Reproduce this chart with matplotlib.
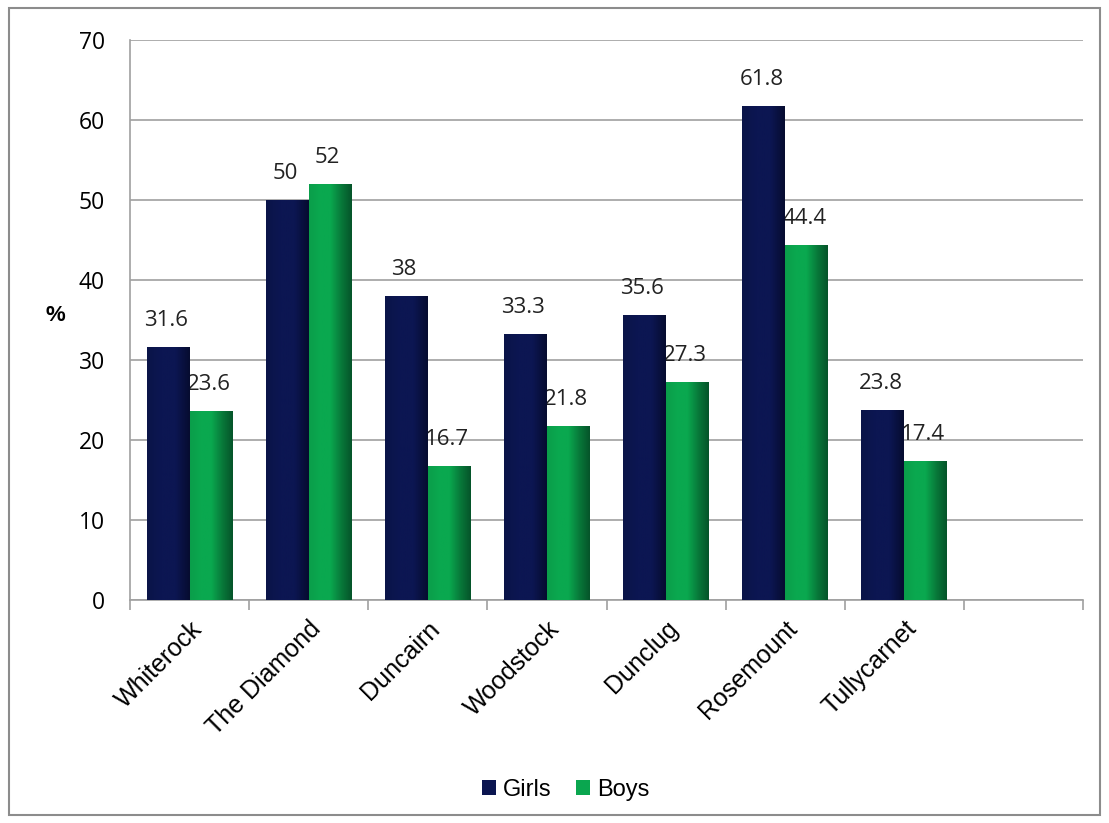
import matplotlib
matplotlib.use("Agg")
import matplotlib.pyplot as plt
import numpy as np
from matplotlib.patches import Rectangle
from matplotlib.colors import LinearSegmentedColormap

sites = ["Whiterock", "The Diamond", "Duncairn", "Woodstock", "Dunclug", "Rosemount", "Tullycarnet"]
girls = [31.6, 50, 38, 33.3, 35.6, 61.8, 23.8]
boys = [23.6, 52, 16.7, 21.8, 27.3, 44.4, 17.4]
girls_lbl = ["31.6", "50", "38", "33.3", "35.6", "61.8", "23.8"]
boys_lbl = ["23.6", "52", "16.7", "21.8", "27.3", "44.4", "17.4"]

navy = "#0b1550"
green = "#0aa64f"
grid = "#a0a0a0"

# horizontal shading like the office-style bars
navy_cm = LinearSegmentedColormap.from_list("n", ["#0a1448", "#0c1652", "#0c1652", "#060c30"])
green_cm = LinearSegmentedColormap.from_list("g", ["#0b9e4a", "#0aa84f", "#0aa84f", "#087a3a", "#05552a"])

fig = plt.figure(figsize=(11.09, 8.23), dpi=100)
fig.patches.append(Rectangle((0.008, 0.01), 0.984, 0.98, transform=fig.transFigure,
                             fill=False, edgecolor="#8c8c8c", linewidth=1.5))
ax = fig.add_axes([0.1172, 0.2710, 0.8594, 0.6804])

x = np.arange(len(sites))
w = 0.36
b1 = ax.bar(x - w / 2, girls, w, color=navy, linewidth=0, label="Girls", zorder=3)
b2 = ax.bar(x + w / 2, boys, w, color=green, linewidth=0, label="Boys", zorder=3)

grad = np.linspace(0, 1, 64).reshape(1, -1)
for bars, cm in [(b1, navy_cm), (b2, green_cm)]:
    for p in bars:
        x0, y0 = p.get_x(), p.get_y()
        im = ax.imshow(grad, cmap=cm, aspect="auto", zorder=4,
                       extent=(x0, x0 + p.get_width(), y0, y0 + p.get_height()))
        im.set_clip_path(p)

for i in range(len(sites)):
    ax.text(x[i] - w / 2 - 0.02, girls[i] + 2.0, girls_lbl[i], ha="center", va="bottom",
            fontsize=16, family="Open Sans", color="#222222")
    ax.text(x[i] + w / 2 - 0.02, boys[i] + 2.0, boys_lbl[i], ha="center", va="bottom",
            fontsize=16, family="Open Sans", color="#222222")

ax.set_xlim(-0.5, len(sites) + 0.5)
ax.set_ylim(0, 70)
ax.set_yticks(np.arange(0, 71, 10))
ax.yaxis.grid(True, color=grid, linewidth=1.2, zorder=0)
ax.tick_params(axis="y", length=0, pad=18, labelsize=16.5)
for t in ax.get_yticklabels():
    t.set_family("Open Sans")

ax.set_xticks(np.arange(-0.5, len(sites) + 0.6, 1.0))
ax.set_xticklabels([])
ax.tick_params(axis="x", length=7, color=grid, width=1.2, direction="out")
ax.set_xticks(x, minor=True)
ax.set_xticklabels(sites, minor=True, rotation=45, ha="right", rotation_mode="anchor",
                   family="Liberation Sans", fontsize=18)
ax.tick_params(axis="x", which="minor", length=0, pad=12)

for s in ["top", "right"]:
    ax.spines[s].set_visible(False)
ax.spines["left"].set_color(grid)
ax.spines["bottom"].set_color(grid)
ax.spines["left"].set_linewidth(1.2)
ax.spines["bottom"].set_linewidth(1.2)

ax.set_ylabel("%", rotation=0, fontsize=16, fontweight="bold", family="Liberation Sans")
ax.yaxis.set_label_coords(-0.078, 0.49)

fig.legend(handles=[b1, b2], loc="center", bbox_to_anchor=(0.51, 0.04), ncol=2, frameon=False,
           prop={"family": "Liberation Sans", "size": 17}, handlelength=0.6, handleheight=0.6,
           handletextpad=0.3, columnspacing=1.0)

fig.savefig("out.png", dpi=100)
